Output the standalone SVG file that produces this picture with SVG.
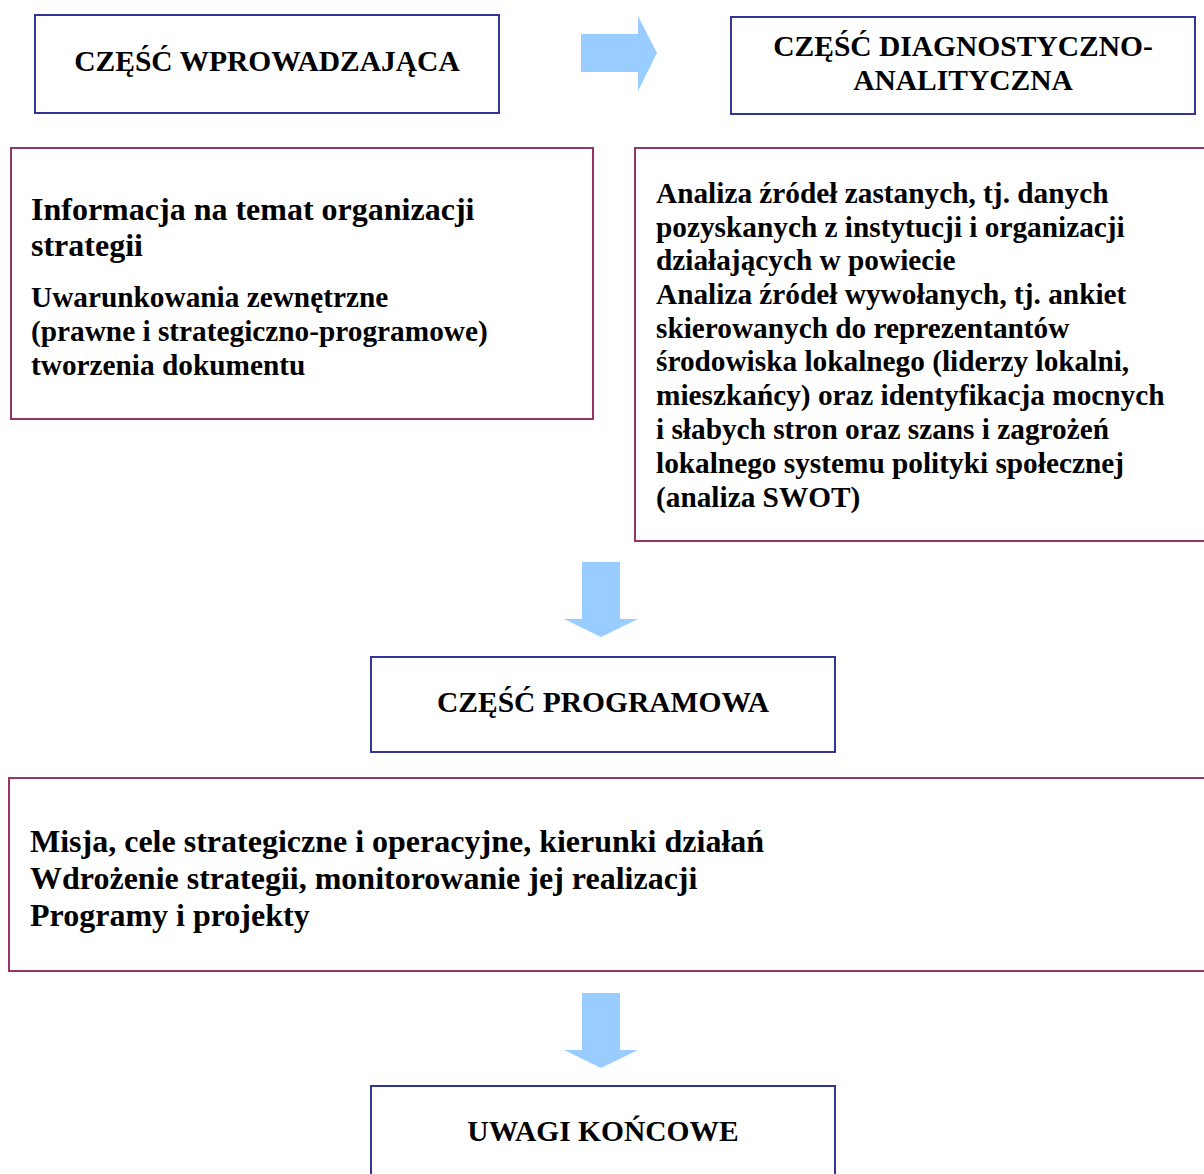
<svg xmlns="http://www.w3.org/2000/svg" width="1204" height="1174" viewBox="0 0 1204 1174">
<style>
.bb{fill:#fff;stroke:#333399;stroke-width:2}
.mb{fill:#fff;stroke:#993366;stroke-width:2}
.arr{fill:#99CCFF}
text{font-family:"Liberation Serif","Times New Roman",serif;font-weight:bold;fill:#000}
.t{font-size:29.5px;text-anchor:middle}
.l{font-size:32px}
.s{font-size:29.3px}
</style>
<rect width="1204" height="1174" fill="#fff"/>
<g id="connectors">
<polygon class="arr" points="581,34 638,34 638,16 657,53 638,91 638,72 581,72"/>
<polygon class="arr" points="582,562 620,562 620,619 638,619 601,637 564,619 582,619"/>
<polygon class="arr" points="582,993 620,993 620,1050 638,1050 601,1068 564,1050 582,1050"/>
</g>
<g id="wprowadzajaca">
<rect class="bb" x="35" y="15" width="464" height="98"/>
<text class="t" x="267" y="71">CZĘŚĆ WPROWADZAJĄCA</text>
</g>
<g id="diagnostyczna">
<rect class="bb" x="731" y="17" width="464" height="97"/>
<text class="t" x="963" y="56">CZĘŚĆ DIAGNOSTYCZNO-</text>
<text class="t" x="963" y="90">ANALITYCZNA</text>
</g>
<g id="wprowadzajaca-tresc">
<rect class="mb" x="11" y="148" width="582" height="271"/>
<text class="l" x="31" y="220">Informacja na temat organizacji</text>
<text class="l" x="31" y="256">strategii</text>
<text class="s" x="31" y="307">Uwarunkowania zewnętrzne</text>
<text class="s" x="31" y="341">(prawne i strategiczno-programowe)</text>
<text class="s" x="31" y="375">tworzenia dokumentu</text>
</g>
<g id="diagnostyczna-tresc">
<rect class="mb" x="635" y="148" width="580" height="393"/>
<text class="s" x="656" y="203">Analiza źródeł zastanych, tj. danych</text>
<text class="s" x="656" y="237">pozyskanych z instytucji i organizacji</text>
<text class="s" x="656" y="270">działających w powiecie</text>
<text class="s" x="656" y="304">Analiza źródeł wywołanych, tj. ankiet</text>
<text class="s" x="656" y="338">skierowanych do reprezentantów</text>
<text class="s" x="656" y="371">środowiska lokalnego (liderzy lokalni,</text>
<text class="s" x="656" y="405">mieszkańcy) oraz identyfikacja mocnych</text>
<text class="s" x="656" y="439">i słabych stron oraz szans i zagrożeń</text>
<text class="s" x="656" y="473">lokalnego systemu polityki społecznej</text>
<text class="s" x="656" y="507">(analiza SWOT)</text>
</g>
<g id="programowa">
<rect class="bb" x="371" y="657" width="464" height="95"/>
<text class="t" x="603" y="712">CZĘŚĆ PROGRAMOWA</text>
</g>
<g id="programowa-tresc">
<rect class="mb" x="9" y="778" width="1210" height="193"/>
<text class="l" x="30" y="852">Misja, cele strategiczne i operacyjne, kierunki działań</text>
<text class="l" x="30" y="889">Wdrożenie strategii, monitorowanie jej realizacji</text>
<text class="l" x="30" y="926">Programy i projekty</text>
</g>
<g id="uwagi">
<rect class="bb" x="371" y="1086" width="464" height="100"/>
<text class="t" x="603" y="1141">UWAGI KOŃCOWE</text>
</g>
</svg>
